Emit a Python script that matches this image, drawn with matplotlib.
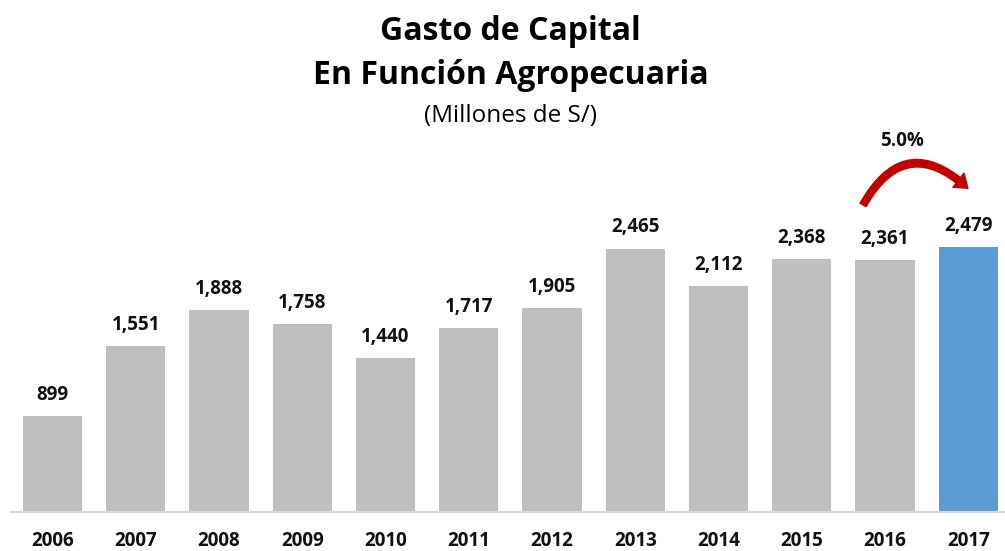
import matplotlib.pyplot as plt
import numpy as np
from matplotlib.patches import FancyArrowPatch

plt.rcParams['font.family'] = ['Open Sans', 'DejaVu Sans']

years = ['2006', '2007', '2008', '2009', '2010', '2011', '2012', '2013', '2014', '2015', '2016', '2017']
values = [899, 1551, 1888, 1758, 1440, 1717, 1905, 2465, 2112, 2368, 2361, 2479]
growth_label = '5.0%'

fig = plt.figure(figsize=(10.05, 5.51), dpi=100)
ax = fig.add_axes([10.9 / 1005, 39 / 551, 999 / 1005, 342 / 551])

x = np.arange(len(years))
colors = ['#BFBFBF'] * (len(years) - 1) + ['#5B9BD5']
ax.bar(x, values, width=0.71, color=colors)

for xi, v in zip(x, values):
    ax.annotate(f'{v:,}', (xi, v), xytext=(0, 8), textcoords='offset points',
                ha='center', va='bottom', fontsize=13.5, fontweight='bold', color='#111111')

ax.set_xlim(-0.5, 11.5)
ax.set_ylim(0, 3200)
ax.set_yticks([])
ax.set_xticks(x)
ax.set_xticklabels(years, fontsize=13.5, fontweight='bold', color='#111111')
ax.tick_params(axis='x', length=0, pad=14)
for s in ['top', 'right', 'left']:
    ax.spines[s].set_visible(False)
ax.spines['bottom'].set_color('#D9D9D9')
ax.spines['bottom'].set_linewidth(1.5)

# flecha de crecimiento 2016 -> 2017
arrow = FancyArrowPatch((9.72, 2850), (11.02, 3010),
                        connectionstyle='arc3,rad=-0.65',
                        arrowstyle='simple,head_length=9,head_width=13,tail_width=5',
                        color='#C00000', clip_on=False)
ax.add_patch(arrow)
ax.text(10.21, 3470, growth_label, ha='center', va='center', fontsize=13.5,
        fontweight='bold', color='#111111', clip_on=False)

fig.text(0.508, 0.943, 'Gasto de Capital', ha='center', va='center', fontsize=23, fontweight='bold')
fig.text(0.508, 0.863, 'En Función Agropecuaria', ha='center', va='center', fontsize=23, fontweight='bold')
fig.text(0.508, 0.79, '(Millones de S/)', ha='center', va='center', fontsize=17.5)

fig.savefig('out.png', dpi=100)
